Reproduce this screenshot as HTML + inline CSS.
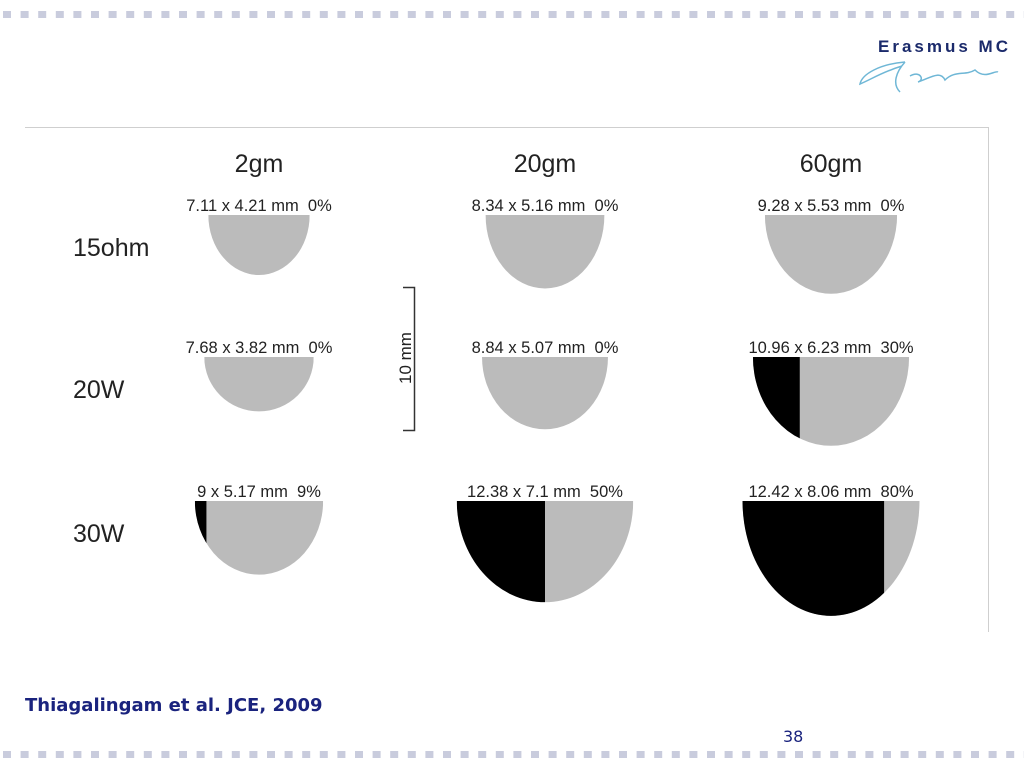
<!DOCTYPE html>
<html><head><meta charset="utf-8"><style>
body{margin:0;background:#fff;}
svg{display:block;font-family:"Liberation Sans",sans-serif;}
</style></head><body>
<svg width="1024" height="768" viewBox="0 0 1024 768">
<g id="dashes"></g>
<text x="878" y="52" font-size="17" font-weight="bold" fill="#1b2a6b" textLength="130">Erasmus MC</text>
<path d="M905 62 C880 64 862 74 860 84 C870 80 882 72 902 66 M905 62 C896 72 892 84 900 92 M910 76 C920 70 925 80 918 82 C930 78 940 70 945 80 C955 70 965 76 975 70 C985 80 995 70 998 72" stroke="#6fb7d6" stroke-width="1.5" fill="none"/>
<path d="M25 127.5 H988.5 V632" stroke="#cfcfcf" stroke-width="1" fill="none"/>
<g id="chart"></g>
<g>
<path d="M403 287.5 H414.5 V430.5 H403" stroke="#333" stroke-width="1.5" fill="none"/>
<text transform="translate(411,358) rotate(-90)" text-anchor="middle" font-size="17" fill="#222">10 mm</text>
</g>
<text x="25" y="711" font-family="'DejaVu Sans',sans-serif" font-size="18" font-weight="bold" fill="#1a237e">Thiagalingam et al. JCE, 2009</text>
<text x="783" y="742" font-family="'DejaVu Sans',sans-serif" font-size="16" fill="#1a237e">38</text>
</svg>
<script>
const columns=["2gm","20gm","60gm"];
const rows=["15ohm","20W","30W"];
const widths=[[7.11,8.34,9.28],[7.68,8.84,10.96],[9,12.38,12.42]];
const depths=[[4.21,5.16,5.53],[3.82,5.07,6.23],[5.17,7.1,8.06]];
const percents=[[0,0,0],[0,0,30],[9,50,80]];
const labels=[["7.11 x 4.21 mm  0%","8.34 x 5.16 mm  0%","9.28 x 5.53 mm  0%"],["7.68 x 3.82 mm  0%","8.84 x 5.07 mm  0%","10.96 x 6.23 mm  30%"],["9 x 5.17 mm  9%","12.38 x 7.1 mm  50%","12.42 x 8.06 mm  80%"]];
const NS="http://www.w3.org/2000/svg";
const pxPerMm=14.25;
const colX=i=>259+i*286;
const rowY=j=>[215,357,501][j];
const g=document.getElementById('chart');
function mk(t,a,p){const e=document.createElementNS(NS,t);for(const k in a)e.setAttribute(k,a[k]);(p||g).appendChild(e);return e;}
const d=document.getElementById('dashes');
for(let x=3;x<1024;x+=17.6){
 for(const y of [11,751]){
  const r=mk('rect',{x:x,y:y,width:8,height:7,fill:'#c9ccdd'},d);
  
  
 }
}
columns.forEach((c,i)=>{
 const t=mk('text',{x:colX(i),y:172,'text-anchor':'middle','font-size':25,fill:'#222'});
 t.textContent=c;
 
 
});
rows.forEach((r,j)=>{
 const t=mk('text',{x:73,y:rowY(j)+41,'font-size':25,fill:'#222'});
 t.textContent=r;
 
 
 columns.forEach((c,i)=>{
  const w=widths[j][i]*pxPerMm, h=depths[j][i]*pxPerMm, cx=colX(i), y0=rowY(j);
  const rx=w/2, x0=cx-rx;
  const id='clip'+j+i;
  const cp=mk('clipPath',{id:id});
  mk('path',{d:`M${x0} ${y0} A${rx} ${h} 0 0 0 ${x0+w} ${y0} Z`},cp);
  const sh=mk('g',{'clip-path':`url(#${id})`});
  
  
  mk('rect',{x:x0,y:y0,width:w,height:h+1,fill:'#bbbbbb'},sh);
  const bw=w*percents[j][i]/100;
  if(bw>0){
   const b=mk('rect',{x:x0,y:y0,width:bw,height:h+1,fill:'#000'},sh);
   
   
  }
  const lt=mk('text',{x:cx,y:y0-4,'text-anchor':'middle','font-size':16.5,fill:'#222','xml:space':'preserve'});
  lt.setAttribute('style','white-space:pre');
  lt.textContent=labels[j][i];
  
  
 });
});
</script>
</body></html>
